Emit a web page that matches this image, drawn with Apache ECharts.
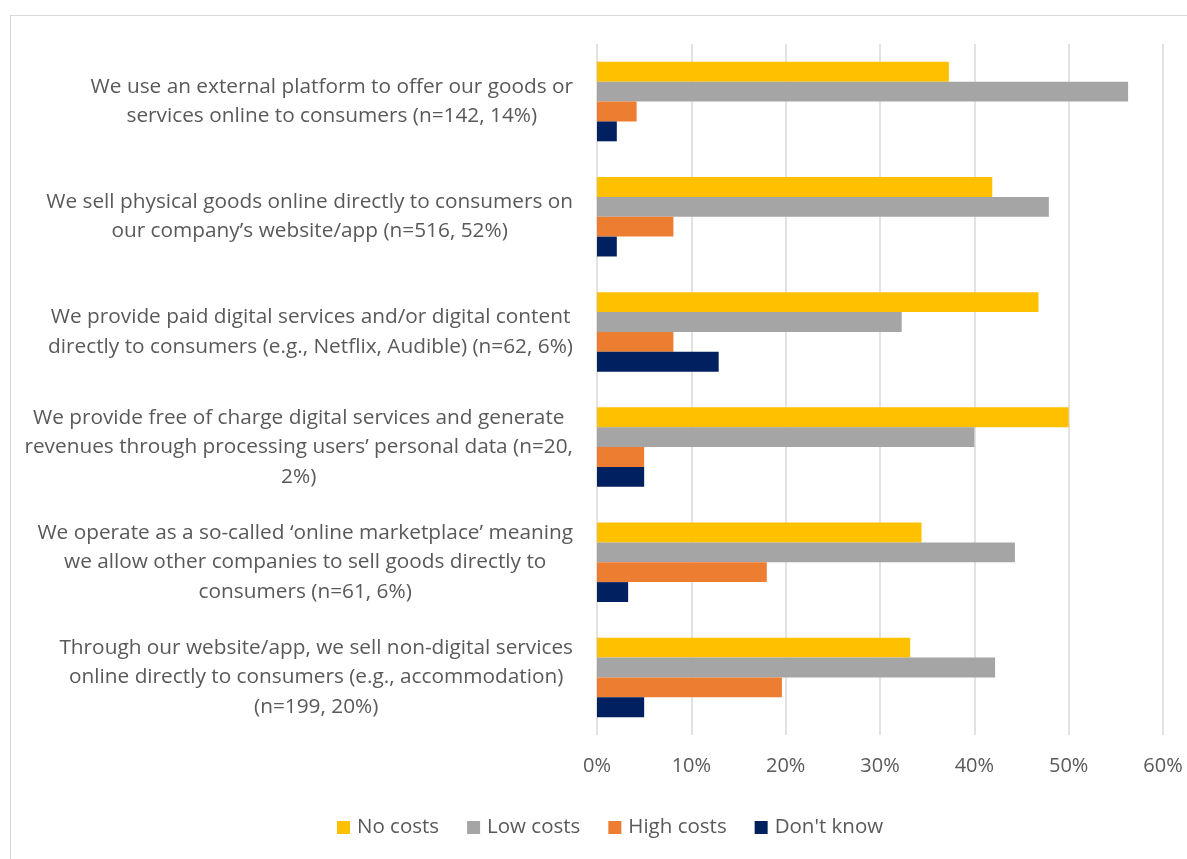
<!DOCTYPE html>
<html>
<head>
<meta charset="utf-8">
<script src="https://cdn.jsdelivr.net/npm/echarts@6/dist/echarts.min.js"></script>
<style>
  html, body { margin: 0; padding: 0; background: #fff; overflow: hidden; }
  #frame { position: absolute; left: 10px; top: 15px; width: 1200px; height: 860px;
           border: 1.5px solid #d9d9d9; box-sizing: border-box; }
  #chart { position: absolute; left: 0; top: 0; width: 1187px; height: 859px; }
</style>
</head>
<body>
<div id="frame"></div>
<div id="chart"></div>
<script>
// Survey categories (top to bottom)
const categories = [
  'We use an external platform to offer our goods or\nservices online to consumers (n=142, 14%)',
  'We sell physical goods online directly to consumers on\nour company\u2019s website/app (n=516, 52%)',
  'We provide paid digital services and/or digital content\ndirectly to consumers (e.g., Netflix, Audible) (n=62, 6%)',
  'We provide free of charge digital services and generate\nrevenues through processing users\u2019 personal data (n=20,\n2%)',
  'We operate as a so-called \u2018online marketplace\u2019 meaning\nwe allow other companies to sell goods directly to\nconsumers (n=61, 6%)',
  'Through our website/app, we sell non-digital services\nonline directly to consumers (e.g., accommodation)\n(n=199, 20%)'
];

// Shares of respondents, in percent
const noCosts   = [37.3, 41.9, 46.8, 50.0, 34.4, 33.2];
const lowCosts  = [56.3, 47.9, 32.3, 40.0, 44.3, 42.2];
const highCosts = [4.2, 8.1, 8.1, 5.0, 18.0, 19.6];
const dontKnow  = [2.1, 2.1, 12.9, 5.0, 3.3, 5.0];

const seriesNames = ['No costs', 'Low costs', 'High costs', "Don't know"];
const seriesData = [noCosts, lowCosts, highCosts, dontKnow];
const colors = ['#FFC000', '#A5A5A5', '#ED7D31', '#002060'];

const chart = echarts.init(document.getElementById('chart'), null, { renderer: 'canvas' });

const font = '"Open Sans", "Noto Sans", sans-serif';

chart.setOption({
  animation: false,
  backgroundColor: 'transparent',
  color: colors,
  grid: { left: 597, right: 24, top: 44, bottom: 124, containLabel: false },
  legend: {
    bottom: 16,
    left: 332,
    itemWidth: 13,
    itemHeight: 13,
    itemGap: 28,
    icon: 'rect',
    textStyle: { color: '#595959', fontSize: 20.5, fontFamily: font, padding: [0, 0, 0, 2] },
    data: seriesNames
  },
  xAxis: {
    type: 'value',
    min: 0,
    max: 60,
    interval: 10,
    axisLine: { show: false },
    axisTick: { show: false },
    splitLine: { show: true, lineStyle: { color: '#d9d9d9', width: 1.5 } },
    axisLabel: {
      color: '#595959',
      fontSize: 20,
      fontFamily: font,
      margin: 21,
      formatter: v => v + '%'
    }
  },
  yAxis: {
    type: 'category',
    inverse: true,
    data: categories,
    axisLine: { show: false },
    axisTick: { show: false },
    splitLine: { show: false },
    axisLabel: {
      margin: 24,
      align: 'right',
      lineHeight: 29.5,
      formatter: v => v.split('\n').map(l => '{c|' + l + '}').join('\n'),
      rich: {
        c: { align: 'center', color: '#595959', fontSize: 20.8, fontFamily: font, lineHeight: 29.5 }
      }
    }
  },
  series: seriesData.map((d, i) => ({
    name: seriesNames[i],
    type: 'bar',
    data: d,
    barGap: '0%',
    barCategoryGap: '31%',
    itemStyle: { color: colors[i] }
  }))
});
</script>
</body>
</html>
